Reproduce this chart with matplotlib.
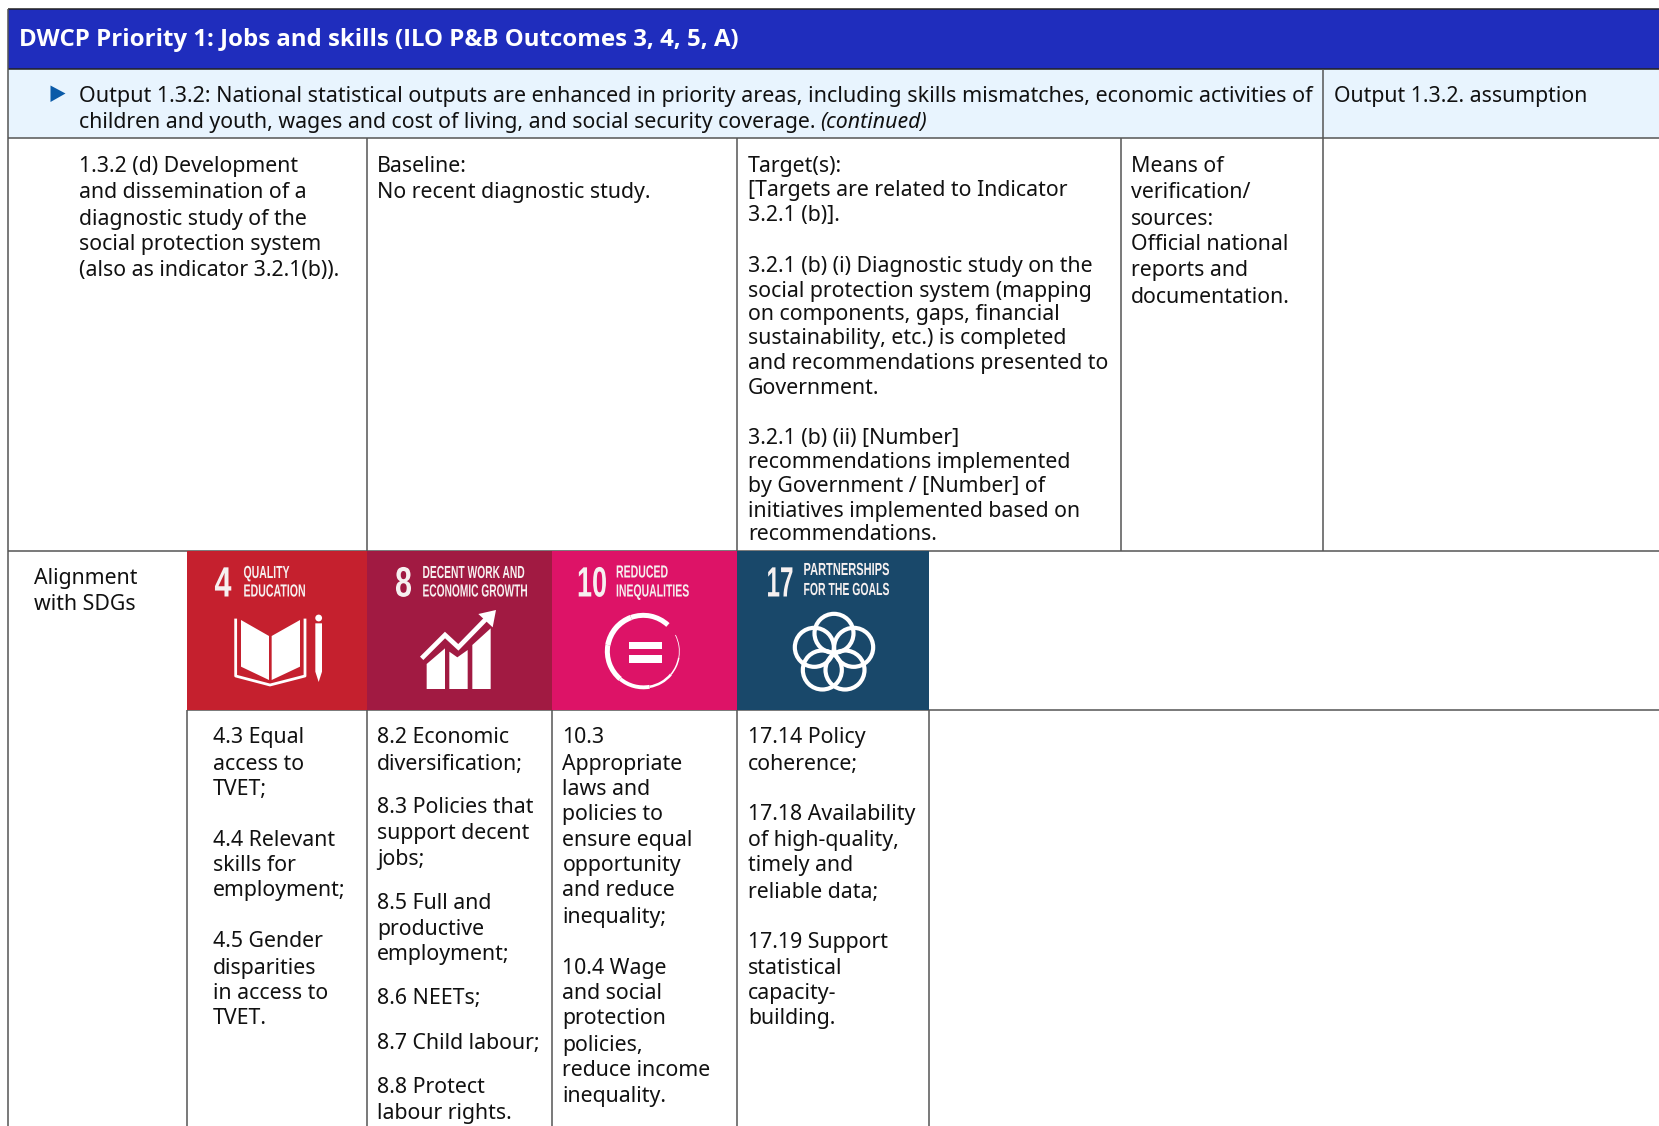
#!/usr/bin/env python3
"""DWCP results table with SDG alignment tiles, drawn in pixel coordinates."""

import matplotlib
matplotlib.use('Agg')
import matplotlib.pyplot as plt
from matplotlib.patches import Polygon, Rectangle, Circle, Arc
from matplotlib.patheffects import AbstractPathEffect
from matplotlib.transforms import Affine2D

W, H = 1659, 1126
S = W / 1568

HEADER = 'DWCP Priority 1: Jobs and skills (ILO P&B Outcomes 3, 4, 5, A)'
OUTPUT_1 = ('Output 1.3.2: National statistical outputs are enhanced in priority areas, '
            'including skills mismatches, economic activities of')
OUTPUT_2 = 'children and youth, wages and cost of living, and social security coverage. '
OUTPUT_2B = '(continued)'
ASSUMPTION = 'Output 1.3.2. assumption'

ACTIVITY = ['1.3.2 (d) Development', 'and dissemination of a', 'diagnostic study of the',
            'social protection system', '(also as indicator 3.2.1(b)).']
BASELINE = ['Baseline:', 'No recent diagnostic study.']
TARGETS = ['Target(s):', '[Targets are related to Indicator', '3.2.1 (b)].',
           '3.2.1 (b) (i) Diagnostic study on the', 'social protection system (mapping',
           'on components, gaps, financial', 'sustainability, etc.) is completed',
           'and recommendations presented to', 'Government.',
           '3.2.1 (b) (ii) [Number]', 'recommendations implemented',
           'by Government / [Number] of', 'initiatives implemented based on',
           'recommendations.']
TARGETS_Y = [155, 178, 202, 250, 273, 295, 318, 341, 365, 412, 435, 458, 481, 503]
MEANS = ['Means of', 'verification/', 'sources:', 'Official national', 'reports and',
         'documentation.']
ALIGN = ['Alignment', 'with SDGs']

SDG4 = ['4.3 Equal', 'access to', 'TVET;', '4.4 Relevant', 'skills for', 'employment;',
        '4.5 Gender', 'disparities', 'in access to', 'TVET.']
SDG4_Y = [695, 720, 744, 792, 816, 840, 888, 913, 937, 961]
SDG8 = ['8.2 Economic', 'diversification;', '8.3 Policies that', 'support decent', 'jobs;',
        '8.5 Full and', 'productive', 'employment;', '8.6 NEETs;', '8.7 Child labour;',
        '8.8 Protect', 'labour rights.']
SDG8_Y = [695, 720, 761, 786, 810, 852, 876, 900, 942, 984, 1026, 1050]
SDG10 = ['10.3', 'Appropriate', 'laws and', 'policies to', 'ensure equal', 'opportunity',
         'and reduce', 'inequality;', '10.4 Wage', 'and social', 'protection', 'policies,',
         'reduce income', 'inequality.']
SDG10_Y = [695, 720, 744, 768, 792, 816, 840, 865, 913, 937, 961, 986, 1010, 1034]
SDG17 = ['17.14 Policy', 'coherence;', '17.18 Availability', 'of high-quality,',
         'timely and', 'reliable data;', '17.19 Support', 'statistical', 'capacity-',
         'building.']
SDG17_Y = [695, 720, 768, 792, 816, 841, 889, 913, 937, 961]

TILE_EDGES = [187, 367, 552, 737, 929]
TILE_COLORS = ['#c5202e', '#a11a42', '#dd1367', '#19486a']
TILE_NUMS = ['4', '8', '10', '17']
TILE_TITLES = [['QUALITY', 'EDUCATION'], ['DECENT WORK AND', 'ECONOMIC GROWTH'],
               ['REDUCED', 'INEQUALITIES'], ['PARTNERSHIPS', 'FOR THE GOALS']]
TILE_TITLE_W = [[46, 62], [102, 105], [52, 73], [86, 86]]
TILE_NUM_W = [17, 17, 30, 27]

TEXT_FONT = ['Noto Sans', 'DejaVu Sans']
BOLD_FONT = ['Open Sans', 'DejaVu Sans']
TILE_FONT = ['Liberation Sans', 'DejaVu Sans']
FS = 15.5
FS_TABLE = 15.35


class Squeeze(AbstractPathEffect):
    # narrows the glyphs sideways, the tile lettering is a condensed face
    def __init__(self, sx):
        super().__init__()
        self.sx = sx

    def draw_path(self, renderer, gc, tpath, affine, rgbFace=None):
        renderer.draw_path(gc, tpath, Affine2D().scale(self.sx, 1) + affine, rgbFace)


def block(ax, x, lines, ys):
    for line, y in zip(lines, ys):
        ax.text(x, (y + 7.3) * S, line, fontsize=FS_TABLE, family=TEXT_FONT, color='#111111',
                va='baseline', ha='left')


def vline(ax, x, y0, y1, c='#555555'):
    ax.plot([x, x], [y0, y1], color=c, lw=1.1, solid_capstyle='butt', zorder=3)


def hline(ax, y, x0, x1, c='#555555'):
    ax.plot([x0, x1], [y, y], color=c, lw=1.1, solid_capstyle='butt', zorder=3)


def fit_text(fig, ax, x, y, s, size, width):
    t = ax.text(x, y, s, fontsize=size, family=TILE_FONT, fontweight='bold',
                color='#f6f0f0', va='baseline', zorder=6)
    full = t.get_window_extent(fig.canvas.get_renderer()).width
    t.set_path_effects([Squeeze(width / full)])


def draw_icons(ax):
    # offsets of the two zoom crops the shapes were read from
    def z1(p):
        return [(170 + a / 3, 540 + b / 3) for a, b in p]

    def z2(p):
        return [(540 + a / 3, 540 + b / 3) for a, b in p]

    white = dict(facecolor='white', edgecolor='none', zorder=5)
    # book and pencil
    ax.add_patch(Polygon(z1([(213, 240), (297, 288), (297, 420), (213, 380)]), **white))
    ax.add_patch(Polygon(z1([(305, 288), (390, 240), (390, 380), (305, 420)]), **white))
    xs, ys = zip(*z1([(197, 240), (197, 408), (300, 435), (405, 408), (405, 240)]))
    ax.plot(xs, ys, color='white', lw=2.0, zorder=5)
    ax.add_patch(Polygon(z1([(436, 250), (456, 250), (456, 395), (446, 426), (436, 395)]), **white))
    ax.add_patch(Circle(z1([(446, 234)])[0], 3.4, **white))
    # growth chart
    ax.add_patch(Polygon(z1([(770, 372), (825, 325), (825, 447), (770, 447)]), **white))
    ax.add_patch(Polygon(z1([(838, 335), (862, 352), (893, 330), (893, 447), (838, 447)]), **white))
    ax.add_patch(Polygon(z1([(907, 315), (962, 265), (962, 447), (907, 447)]), **white))
    xs, ys = zip(*z1([(760, 350), (825, 285), (865, 322), (945, 240)]))
    ax.plot(xs, ys, color='white', lw=3.4, zorder=5, solid_joinstyle='miter')
    ax.add_patch(Polygon(z1([(978, 210), (925, 222), (968, 262)]), **white))
    # reduced inequalities ring, thick at the top and thinning round to the right
    c = z2([(310, 334)])[0]
    for a0, a1, lw in [(47, 110, 3.6), (110, 170, 3.9), (170, 230, 3.6), (230, 280, 2.8),
                       (280, 320, 1.8), (320, 350, 1.1), (350, 387, 0.6)]:
        # y axis is inverted, so screen angles run the other way
        ax.add_patch(Arc(c, 72, 72, theta1=-a1, theta2=-a0, color='white', lw=lw, zorder=5))
    for y0, y1 in [(305, 327), (346, 368)]:
        ax.add_patch(Polygon(z2([(268, y0), (365, y0), (365, y1), (268, y1)]), **white))
    # partnership flower
    for a, b in [(882, 280), (823, 322), (941, 322), (847, 390), (915, 390)]:
        ax.add_patch(Circle(z2([(a, b)])[0], 19.5, facecolor='none', edgecolor='white',
                            lw=3.0, zorder=5))


def main():
    fig = plt.figure(figsize=(W / 100, H / 100), dpi=100)
    ax = fig.add_axes([0, 0, 1, 1])
    ax.set_xlim(0, W)
    ax.set_ylim(H, 0)
    ax.axis('off')

    # header and output bands
    ax.add_patch(Rectangle((7.5, 9), W, 59.5, facecolor='#1f2dbd', edgecolor='none'))
    ax.add_patch(Rectangle((7.5, 68.5), W, 69.5, facecolor='#e8f4fe', edgecolor='none'))
    ax.text(19, 46.5, HEADER, fontsize=17.25, family=BOLD_FONT, fontweight='bold',
            color='white', va='baseline')
    ax.add_patch(Polygon([(50.5, 85.5), (65.5, 93.5), (50.5, 102)], facecolor='#0a5aa8',
                         edgecolor='none'))
    ax.text(79, 102, OUTPUT_1, fontsize=FS, family=TEXT_FONT, color='#111111', va='baseline')
    t = ax.text(79, 128, OUTPUT_2, fontsize=FS_TABLE, family=TEXT_FONT, color='#111111', va='baseline')
    fig.canvas.draw()
    x_end = t.get_window_extent().x1
    ax.text(x_end - 1, 128, OUTPUT_2B, fontsize=FS_TABLE, family=TEXT_FONT, style='italic',
            color='#111111', va='baseline')
    ax.text(1334, 102, ASSUMPTION, fontsize=FS_TABLE, family=TEXT_FONT, color='#111111', va='baseline')

    # table text
    block(ax, 79, ACTIVITY, [155, 180, 205, 229, 254])
    block(ax, 377.2, BASELINE, [155, 180])
    block(ax, 748, TARGETS, TARGETS_Y)
    block(ax, 1131, MEANS, [155, 180, 205, 229, 254, 279])
    block(ax, 33.5, ALIGN, [545, 569])
    block(ax, 213, SDG4, SDG4_Y)
    block(ax, 377.2, SDG8, SDG8_Y)
    block(ax, 562.5, SDG10, SDG10_Y)
    block(ax, 748, SDG17, SDG17_Y)

    # SDG tiles
    y0, y1 = 550.5, 710
    for i, col in enumerate(TILE_COLORS):
        x0, x1 = TILE_EDGES[i], TILE_EDGES[i + 1]
        ax.add_patch(Rectangle((x0, y0), x1 - x0, y1 - y0, facecolor=col, edgecolor='none', zorder=4))
    num_x = [214.5, 395, 577, 766.5]
    title_x = [243.5, 422.5, 616, 803.5]
    title_y = [[578, 596.5], [578, 596.5], [577.5, 596.5], [575, 595]]
    for i in range(4):
        fit_text(fig, ax, num_x[i], 596.5, TILE_NUMS[i], 30.5, TILE_NUM_W[i])
        for line, y, w in zip(TILE_TITLES[i], title_y[i], TILE_TITLE_W[i]):
            fit_text(fig, ax, title_x[i], y, line, 12.6, w)
    draw_icons(ax)

    # grid lines
    hline(ax, 9, 7.5, W, '#222222')
    hline(ax, 68.5, 7.5, W, '#222222')
    hline(ax, 138, 7.5, W)
    hline(ax, 550.5, 7.5, W)
    hline(ax, 710, 187, W)
    vline(ax, 7.5, 9, H)
    for x in (367, 737, 1120.5):
        vline(ax, x, 138, 550.5)
    vline(ax, 1322.5, 68.5, 550.5)
    for x in TILE_EDGES:
        vline(ax, x, 710, H)

    fig.savefig('out.png', dpi=100, facecolor='white')


if __name__ == '__main__':
    main()
